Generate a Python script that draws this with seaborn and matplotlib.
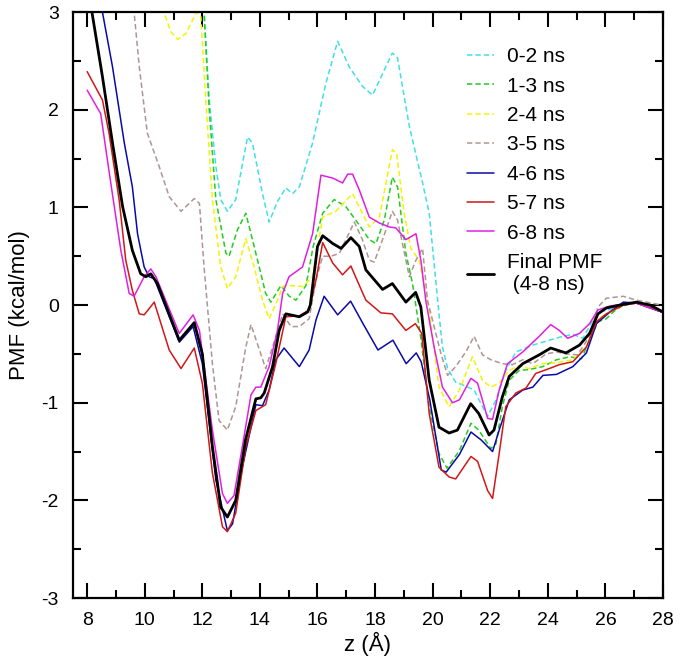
import matplotlib
matplotlib.use("Agg")
import matplotlib.pyplot as plt
import seaborn as sns
from matplotlib.ticker import MultipleLocator

# PMF windows (z in Angstrom, PMF in kcal/mol)
z_02 = [11.95, 12.06, 12.24, 12.47, 12.64, 12.87, 13.16, 13.57, 13.74, 14.09,
        14.32, 14.61, 14.9, 15.13, 15.37, 15.83, 16.29, 16.7, 17.1, 17.56,
        17.91, 18.6, 18.78, 19.19, 19.65, 19.88, 20.22, 20.34, 20.52, 20.8,
        21.15, 21.44, 21.73, 21.91, 22.2, 22.54, 22.89, 23.48, 24.05, 24.52,
        24.87, 25.22, 25.57, 25.8, 26.5, 27.08, 27.95]
pmf_02 = [3.4, 3.0, 2.1, 1.42, 1.08, 0.96, 1.08, 1.72, 1.66, 1.14,
          0.85, 1.06, 1.2, 1.14, 1.21, 1.66, 2.27, 2.7, 2.44, 2.24,
          2.15, 2.58, 2.53, 1.83, 1.25, 0.94, -0.09, -0.43, -0.65, -0.79,
          -0.83, -0.87, -1.04, -1.14, -0.97, -0.67, -0.48, -0.41, -0.36, -0.32,
          -0.3, -0.34, -0.15, -0.07, -0.02, 0.03, -0.07]

z_13 = [11.95, 12.06, 12.24, 12.47, 12.82, 12.93, 13.22, 13.51, 13.8, 14.2,
        14.38, 14.73, 15.02, 15.25, 15.6, 15.85, 16.18, 16.58, 16.98, 17.45,
        17.8, 18.03, 18.32, 18.6, 18.78, 19.07, 19.3, 19.6, 19.88, 20.22,
        20.5, 20.93, 21.33, 21.6, 22.02, 22.2, 22.42, 22.66, 23.0, 23.35,
        23.83, 24.3, 24.76, 25.17, 25.45, 25.74, 26.03, 26.27, 26.62, 27.08,
        27.95]
pmf_13 = [3.4, 3.0, 2.0, 1.08, 0.53, 0.5, 0.77, 0.94, 0.6, 0.12,
          0.03, 0.2, 0.09, 0.05, 0.2, 0.6, 0.94, 1.08, 1.01, 0.82,
          0.67, 0.63, 0.87, 1.31, 1.21, 0.53, 0.22, -0.36, -1.04, -1.52,
          -1.67, -1.49, -1.21, -1.28, -1.47, -1.42, -1.04, -0.77, -0.67, -0.66,
          -0.63, -0.56, -0.53, -0.55, -0.36, -0.17, -0.14, -0.07, 0.0, 0.02,
          -0.07]

z_24 = [10.5, 10.67, 10.9, 11.14, 11.43, 11.8, 11.95, 12.12, 12.35, 12.64,
        12.87, 13.16, 13.51, 13.8, 14.09, 14.32, 14.61, 14.79, 15.02, 15.48,
        15.83, 16.18, 16.63, 17.22, 17.56, 17.8, 18.15, 18.6, 18.75, 19.01,
        19.24, 19.53, 19.88, 20.22, 20.57, 20.93, 21.38, 21.73, 22.02, 22.31,
        22.66, 23.0, 23.35, 23.83, 24.3, 24.87, 25.34, 25.69, 26.16, 26.62,
        27.08, 27.95]
pmf_24 = [3.3, 3.0, 2.8, 2.72, 2.78, 3.0, 2.95, 2.1, 1.08, 0.39,
          0.17, 0.29, 0.68, 0.39, 0.05, -0.14, 0.05, 0.19, 0.2, 0.19,
          0.29, 0.9, 0.96, 1.14, 0.94, 0.8, 0.9, 1.59, 1.55, 0.94,
          0.58, 0.46, -0.05, -0.84, -1.04, -0.87, -0.53, -0.77, -0.84, -0.8,
          -0.67, -0.62, -0.65, -0.6, -0.59, -0.56, -0.43, -0.15, -0.07, 0.0,
          0.02, -0.07]

z_35 = [9.5, 9.63, 9.81, 10.09, 10.5, 10.85, 11.26, 11.72, 11.9, 12.06,
        12.35, 12.58, 12.87, 13.16, 13.51, 13.69, 14.03, 14.2, 14.44, 14.79,
        15.08, 15.37, 15.71, 15.95, 16.18, 16.47, 16.76, 17.28, 17.56, 17.8,
        17.97, 18.26, 18.6, 18.78, 19.07, 19.19, 19.42, 19.65, 19.82, 20.29,
        20.52, 20.8, 21.15, 21.44, 21.73, 22.02, 22.42, 22.77, 23.13, 23.48,
        23.94, 24.3, 24.63, 25.03, 25.45, 25.74, 26.03, 26.62, 27.08, 27.95]
pmf_35 = [3.3, 3.0, 2.44, 1.76, 1.42, 1.11, 0.96, 1.09, 1.04, 0.39,
          -0.6, -1.18, -1.28, -1.04, -0.43, -0.2, -0.5, -0.65, -0.43, -0.09,
          -0.22, -0.22, -0.14, 0.26, 0.5, 0.5, 0.53, 0.85, 0.67, 0.46,
          0.44, 0.67, 0.96, 0.87, 0.46, 0.29, 0.46, 0.58, 0.05, -0.5,
          -0.72, -0.63, -0.48, -0.32, -0.51, -0.56, -0.6, -0.61, -0.56, -0.6,
          -0.5, -0.48, -0.5, -0.51, -0.32, -0.02, 0.07, 0.09, 0.05, 0.0]

z_46 = [8.3, 8.53, 8.88, 9.29, 9.57, 9.75, 9.98, 10.15, 10.33, 11.2,
        11.68, 12.0, 12.47, 12.87, 13.05, 13.39, 13.86, 14.09, 14.32, 14.55,
        14.84, 15.37, 15.71, 15.95, 16.23, 16.7, 17.15, 17.58, 18.1, 18.62,
        19.08, 19.43, 19.6, 19.9, 20.3, 20.47, 20.93, 21.33, 21.68, 22.08,
        22.31, 22.66, 23.13, 23.48, 23.83, 24.3, 24.87, 25.34, 25.69, 26.16,
        26.62, 27.08, 27.95]
pmf_46 = [3.4, 3.0, 2.44, 1.66, 1.21, 0.73, 0.39, 0.29, 0.27, -0.38,
          -0.22, -0.6, -1.79, -2.31, -2.24, -1.66, -1.02, -1.03, -0.87, -0.56,
          -0.44, -0.63, -0.46, -0.15, 0.09, -0.1, 0.04, -0.19, -0.46, -0.36,
          -0.6, -0.49, -0.58, -0.97, -1.69, -1.71, -1.53, -1.3, -1.38, -1.5,
          -1.28, -0.97, -0.87, -0.84, -0.72, -0.71, -0.63, -0.49, -0.19, -0.07,
          0.03, 0.02, -0.07]

z_57 = [8.0, 8.53, 8.76, 9.11, 9.34, 9.57, 9.81, 9.98, 10.33, 10.85,
        11.26, 11.72, 12.0, 12.35, 12.7, 12.87, 13.16, 13.51, 13.86, 14.2,
        14.55, 14.9, 15.37, 15.71, 15.95, 16.18, 16.53, 16.87, 17.16, 17.5,
        17.68, 18.2, 18.6, 19.07, 19.4, 19.62, 19.88, 20.22, 20.57, 20.8,
        21.33, 21.56, 21.91, 22.08, 22.31, 22.54, 22.89, 23.24, 23.58, 24.05,
        24.4, 24.87, 25.34, 25.69, 26.03, 26.62, 27.08, 27.95]
pmf_57 = [2.39, 2.1, 1.76, 1.08, 0.46, 0.15, -0.09, -0.1, 0.03, -0.46,
          -0.65, -0.44, -0.8, -1.72, -2.27, -2.32, -2.13, -1.45, -1.08, -1.02,
          -0.6, -0.12, -0.11, -0.05, 0.26, 0.64, 0.43, 0.31, 0.4, 0.17,
          0.05, -0.08, -0.09, -0.26, -0.19, -0.29, -1.11, -1.66, -1.76, -1.78,
          -1.55, -1.6, -1.9, -1.98, -1.52, -1.04, -0.9, -0.85, -0.7, -0.65,
          -0.61, -0.58, -0.43, -0.17, -0.09, 0.0, 0.02, -0.07]

z_68 = [8.0, 8.47, 8.82, 9.17, 9.46, 9.63, 9.98, 10.21, 10.39, 11.2,
        11.68, 11.9, 12.35, 12.7, 12.87, 13.1, 13.39, 13.69, 13.86, 14.03,
        14.32, 14.61, 14.79, 15.01, 15.48, 15.83, 16.12, 16.53, 16.87, 17.05,
        17.22, 17.45, 17.8, 18.15, 18.49, 18.72, 19.07, 19.42, 19.59, 19.76,
        20.05, 20.34, 20.69, 20.93, 21.33, 21.56, 21.91, 22.08, 22.31, 22.6,
        23.13, 23.7, 24.1, 24.4, 24.69, 25.1, 25.45, 25.74, 26.16, 26.62,
        27.08, 27.95]
pmf_68 = [2.2, 1.96, 1.25, 0.56, 0.12, 0.09, 0.29, 0.37, 0.29, -0.29,
          -0.1, -0.26, -1.28, -1.93, -2.03, -1.95, -1.45, -0.92, -0.84, -0.84,
          -0.63, -0.26, 0.12, 0.29, 0.39, 0.73, 1.33, 1.3, 1.25, 1.34,
          1.34, 1.18, 0.9, 0.84, 0.8, 0.79, 0.67, 0.73, 0.46, 0.05,
          -0.43, -0.84, -1.0, -0.97, -0.75, -0.8, -1.16, -1.17, -0.87, -0.6,
          -0.48, -0.32, -0.2, -0.26, -0.34, -0.29, -0.19, -0.05, -0.01, 0.01,
          0.02, -0.07]

z_fin = [8.0, 8.53, 8.88, 9.23, 9.57, 9.86, 10.04, 10.21, 10.44, 11.2,
         11.72, 12.0, 12.35, 12.64, 12.87, 13.16, 13.5, 13.86, 14.03, 14.15,
         14.44, 14.67, 14.9, 15.37, 15.66, 15.75, 16.0, 16.18, 16.53, 16.82,
         17.16, 17.45, 17.68, 18.26, 18.6, 19.07, 19.41, 19.59, 19.88, 20.22,
         20.57, 20.86, 21.32, 21.6, 21.96, 22.13, 22.42, 22.66, 23.13, 23.7,
         24.1, 24.63, 25.1, 25.45, 25.74, 26.03, 26.5, 27.08, 27.55, 28.0]
pmf_fin = [3.3, 2.34, 1.66, 1.01, 0.56, 0.32, 0.29, 0.32, 0.22, -0.36,
           -0.18, -0.5, -1.45, -2.07, -2.17, -2.0, -1.38, -0.96, -0.95, -0.9,
           -0.63, -0.26, -0.09, -0.12, -0.07, 0.0, 0.6, 0.71, 0.63, 0.58,
           0.69, 0.6, 0.36, 0.16, 0.22, 0.03, 0.13, -0.02, -0.77, -1.25,
           -1.31, -1.28, -1.01, -1.11, -1.33, -1.28, -0.94, -0.73, -0.6, -0.51,
           -0.44, -0.49, -0.41, -0.29, -0.09, -0.03, 0.0, 0.03, 0.0, -0.07]

labels = ["0-2 ns", "1-3 ns", "2-4 ns", "3-5 ns", "4-6 ns", "5-7 ns", "6-8 ns",
          "Final PMF\n (4-8 ns)"]

sns.set_style("ticks")
plt.rcParams['font.family'] = ['Liberation Sans', 'DejaVu Sans']
plt.rcParams['axes.unicode_minus'] = False
plt.rcParams['text.color'] = 'black'
plt.rcParams['axes.labelcolor'] = 'black'
plt.rcParams['xtick.color'] = 'black'
plt.rcParams['ytick.color'] = 'black'
plt.rcParams['axes.edgecolor'] = 'black'

fig = plt.figure(figsize=(6.8, 6.69), dpi=100)
ax = fig.add_axes([0.107, 0.106, 0.868, 0.876])

series = [
    (z_02, pmf_02, "#40e0e8", True, 1.1),
    (z_13, pmf_13, "#22cc22", True, 1.1),
    (z_24, pmf_24, "#f4f400", True, 1.1),
    (z_35, pmf_35, "#b09494", True, 1.1),
    (z_46, pmf_46, "#0a0aa8", False, 1.1),
    (z_57, pmf_57, "#d01818", False, 1.1),
    (z_68, pmf_68, "#e020e0", False, 1.1),
    (z_fin, pmf_fin, "black", False, 2.0),
]
for (z, p, c, dashed, lw), lab in zip(series, labels):
    sns.lineplot(x=z, y=p, ax=ax, color=c, lw=lw, label=lab, sort=False)
    if dashed:
        ax.lines[-1].set_dashes([3.5, 2])

ax.set_xlim(7.5, 28)
ax.set_ylim(-3, 3)
ax.xaxis.set_major_locator(MultipleLocator(2))
ax.xaxis.set_minor_locator(MultipleLocator(1))
ax.yaxis.set_major_locator(MultipleLocator(1))
ax.yaxis.set_minor_locator(MultipleLocator(0.5))
ax.tick_params(which='both', direction='in', top=True, right=True, width=1.5)
ax.tick_params(which='major', length=11, labelsize=14)
ax.tick_params(which='minor', length=6)
ax.tick_params(axis='x', which='major', pad=10)
ax.tick_params(axis='y', which='major', pad=10)
for s in ax.spines.values():
    s.set_linewidth(1.6)

ax.set_xlabel("z (Å)", fontsize=16, labelpad=2)
ax.set_ylabel("PMF (kcal/mol)", fontsize=16, labelpad=8)

ax.legend(loc='upper left', bbox_to_anchor=(0.668, 0.94), frameon=False,
          fontsize=15, handlelength=1.3, handletextpad=0.6, labelspacing=0.5,
          borderpad=0, borderaxespad=0)

fig.savefig("out.png", dpi=100)
